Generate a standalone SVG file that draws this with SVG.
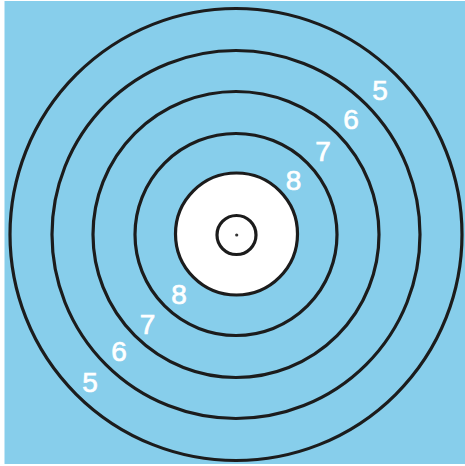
<svg xmlns="http://www.w3.org/2000/svg" width="465" height="466" viewBox="0 0 465 466">
<style>
.ring{fill:none;stroke:#1c1c1c;stroke-width:3.2}
.lbl{fill:#ffffff;stroke:#ffffff;stroke-width:0.7;font-family:"Liberation Sans",Arial,sans-serif;font-size:28px;text-anchor:middle}
</style>
<rect x="0" y="0" width="465" height="466" fill="#ffffff"/>
<rect x="4.5" y="1" width="460.5" height="463" fill="#87CEEB"/>
<g id="rings">
<circle class="ring" cx="236" cy="234.5" r="226"/>
<circle class="ring" cx="236" cy="234.5" r="184"/>
<circle class="ring" cx="236" cy="234.5" r="143"/>
<circle class="ring" cx="236" cy="234.5" r="101"/>
<circle class="ring" cx="236.5" cy="234" r="61" style="fill:#ffffff"/>
<circle class="ring" cx="236.5" cy="235" r="19.5"/>
<circle cx="236.7" cy="235" r="1.6" fill="#333333"/>
</g>
<g id="labels">
<text class="lbl" x="380" y="100">5</text>
<text class="lbl" x="351" y="129">6</text>
<text class="lbl" x="323" y="161">7</text>
<text class="lbl" x="293.5" y="190">8</text>
<text class="lbl" x="179" y="304">8</text>
<text class="lbl" x="147.5" y="334">7</text>
<text class="lbl" x="119" y="361">6</text>
<text class="lbl" x="90" y="392">5</text>
</g>
</svg>
